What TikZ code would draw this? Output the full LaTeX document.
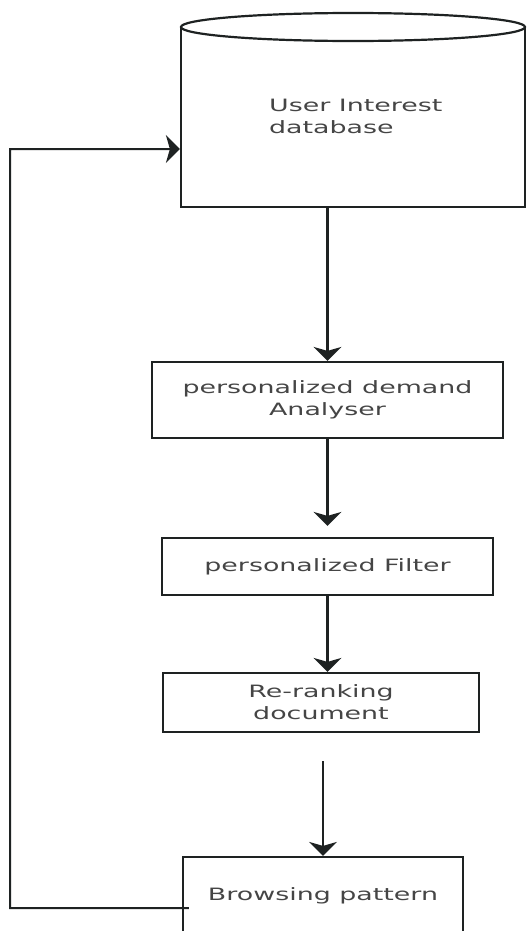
\documentclass[tikz,border=0pt]{standalone}
\usepackage{fontspec}
\setmainfont[FakeStretch=1.58]{DejaVu Sans}
\usetikzlibrary{arrows.meta}
\definecolor{ink}{HTML}{1E2222}
\definecolor{txt}{HTML}{454545}
\begin{document}
\begin{tikzpicture}[x=1bp,y=1bp,line width=2.2bp,draw=ink,
    box/.style={draw,rectangle,inner sep=0pt,text=txt,align=center,
      font=\fontsize{17bp}{22bp}\selectfont},
    flow/.style={-{Stealth[length=14bp,width=28bp,inset=4bp]}}]
  \useasboundingbox (0,0) rectangle (527,-931);
  % database drum
  \node[box,minimum width=344bp,minimum height=180bp] (db) at (353,-117) {};
  \filldraw[fill=white] (353,-27) ellipse (172 and 14);
  \node[text=txt,align=left,anchor=west,inner sep=0pt,
    font=\fontsize{17bp}{22bp}\selectfont]
    (dbtext) at (268,-116.5) {User Interest\\database};
  % steps
  \node[box,minimum width=351bp,minimum height=76bp] (ana) at (327.5,-400)
    {personalized demand\\Analyser};
  \node[box,minimum width=331bp,minimum height=57bp] (filt) at (327.5,-566.5)
    {personalized Filter};
  \node[box,minimum width=316bp,minimum height=59bp] (rerank) at (321,-702.5)
    {Re-ranking\\document};
  \node[box,minimum width=280bp,minimum height=78bp] (browse) at (323,-896)
    {Browsing pattern};
  % arrows
  \draw[flow] (ana.north |- db.south) -- (ana.north);
  \draw[flow,shorten >=11bp] (ana) -- (filt);
  \draw[flow] (filt) -- (rerank.north -| filt.south);
  \draw[flow,shorten <=28bp] (rerank.south -| browse.north) -- (browse.north);
  % feedback loop
  \coordinate (back) at (10,-908);
  \coordinate (up) at (10,-149);
  \draw[flow,line width=2bp] ([xshift=7bp,yshift=-12bp]browse.west) -- (back)
    -- (up) -- (db.west |- up);
\end{tikzpicture}
\end{document}
